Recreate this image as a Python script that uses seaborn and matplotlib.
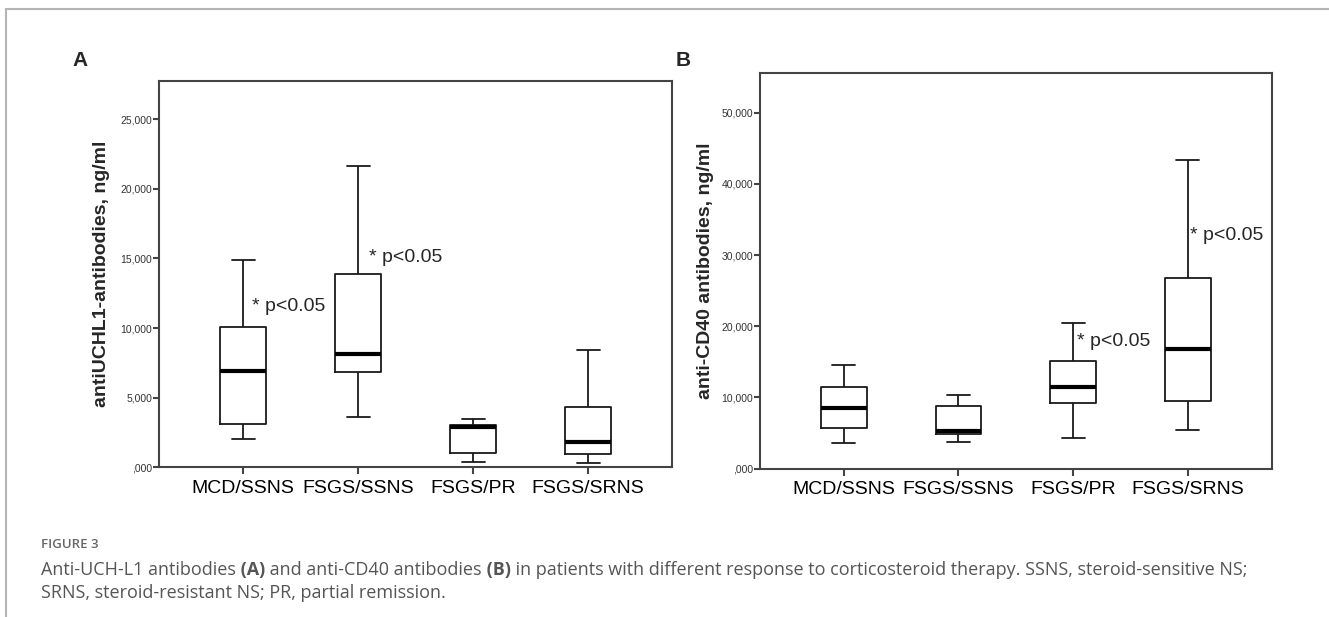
import numpy as np
import pandas as pd
import matplotlib
matplotlib.use("Agg")
import matplotlib.pyplot as plt
from matplotlib.lines import Line2D
import seaborn as sns

groups = ["MCD/SSNS", "FSGS/SSNS", "FSGS/PR", "FSGS/SRNS"]

# Panel A: anti-UCH-L1, box summaries (ng/ml)
uchl1_low = [2050, 3600, 400, 280]
uchl1_q1 = [3100, 6850, 1000, 970]
uchl1_med = [6900, 8150, 2900, 1850]
uchl1_q3 = [10050, 13850, 3050, 4300]
uchl1_high = [14900, 21650, 3450, 8400]
uchl1_ticks = [0, 5000, 10000, 15000, 20000, 25000]
uchl1_ticklabels = [",000", "5,000", "10,000", "15,000", "20,000", "25,000"]

# Panel B: anti-CD40
cd40_low = [3600, 3800, 4300, 5400]
cd40_q1 = [5750, 4900, 9250, 9500]
cd40_med = [8500, 5350, 11500, 16800]
cd40_q3 = [11500, 8850, 15150, 26750]
cd40_high = [14600, 10400, 20500, 43300]
cd40_ticks = [0, 10000, 20000, 30000, 40000, 50000]
cd40_ticklabels = [",000", "10,000", "20,000", "30,000", "40,000", "50,000"]


def summary_frame(lo, q1, med, q3, hi):
    # five points per group -> quartiles land exactly on the read values
    rows = []
    for g, vals in zip(groups, zip(lo, q1, med, q3, hi)):
        for v in vals:
            rows.append((g, v))
    return pd.DataFrame(rows, columns=["group", "value"])


df_a = summary_frame(uchl1_low, uchl1_q1, uchl1_med, uchl1_q3, uchl1_high)
df_b = summary_frame(cd40_low, cd40_q1, cd40_med, cd40_q3, cd40_high)

sns.set_style("ticks")
plt.rcParams["font.family"] = ["Liberation Sans", "DejaVu Sans"]

fig = plt.figure(figsize=(13.29, 6.17), dpi=100)
ax_a = fig.add_axes([0.1199, 0.2426, 0.3858, 0.6266])
ax_b = fig.add_axes([0.5719, 0.2404, 0.3849, 0.6408])


def draw_panel(ax, df, ticks, ticklabels, ylim):
    sns.boxplot(data=df, x="group", y="value", order=groups, ax=ax,
                width=0.4, whis=(0, 100), fill=False, color="#1a1a1a",
                linewidth=1.3, showfliers=False,
                medianprops=dict(color="black", linewidth=3))
    ax.set_xlim(-0.73, 3.73)
    ax.set_ylim(*ylim)
    ax.set_yticks(ticks)
    ax.set_yticklabels(ticklabels)
    ax.set_xlabel("")
    ax.set_ylabel("")
    for s in ax.spines.values():
        s.set_visible(True)
        s.set_color("#444444")
        s.set_linewidth(1.5)
    ax.tick_params(axis="y", length=4, width=1.5, color="#444444",
                   labelsize=7.5, labelcolor="#333333", pad=1)
    ax.tick_params(axis="x", length=5, width=1.5, color="#444444",
                   labelsize=14, labelcolor="black", pad=4)


draw_panel(ax_a, df_a, uchl1_ticks, uchl1_ticklabels, (0, 27770))
draw_panel(ax_b, df_b, cd40_ticks, cd40_ticklabels, (0, 55530))

# significance marks
for ax, x, y in [(ax_a, 0.08, 11540), (ax_a, 1.09, 15090),
                 (ax_b, 2.03, 17930), (ax_b, 3.02, 32800)]:
    ax.text(x, y, "* p<0.05", fontsize=14, ha="left", va="center")

# y-axis titles and panel letters
fig.text(102 / 1329, 1 - 274 / 617, "antiUCHL1-antibodies, ng/ml", rotation=90,
         fontsize=14, fontweight="bold", ha="center", va="center")
fig.text(705 / 1329, 1 - 271 / 617, "anti-CD40 antibodies, ng/ml", rotation=90,
         fontsize=14, fontweight="bold", ha="center", va="center")
fig.text(72 / 1329, 1 - 61 / 617, "A", fontsize=15, fontweight="bold",
         ha="left", va="center")
fig.text(676 / 1329, 1 - 61 / 617, "B", fontsize=15, fontweight="bold",
         ha="left", va="center")

# figure frame
fig.add_artist(Line2D([6 / 1329, 1], [1 - 9 / 617, 1 - 9 / 617],
                      transform=fig.transFigure, color="#b5b5b5", lw=1.5))
fig.add_artist(Line2D([6 / 1329, 6 / 1329], [0, 1 - 9 / 617],
                      transform=fig.transFigure, color="#b5b5b5", lw=1.5))

# caption
cap_font = ["Open Sans", "DejaVu Sans"]
cap_size = 13
fig.text(41 / 1329, 1 - 545 / 617, "FIGURE 3", fontsize=9.5, fontweight="semibold",
         color="#666666", family=cap_font, ha="left", va="center")


def caption_chain(y, pieces):
    prev = fig.text(41 / 1329, y, pieces[0][0], fontsize=cap_size, color="#555555",
                    family=cap_font, fontweight=pieces[0][1],
                    ha="left", va="bottom")
    for txt, weight in pieces[1:]:
        prev = ax_a.annotate(txt, xy=(1, 0), xycoords=prev,
                             fontsize=cap_size, color="#555555", family=cap_font,
                             fontweight=weight, ha="left", va="bottom",
                             annotation_clip=False)


caption_chain(1 - 579 / 617, [
    ("Anti-UCH-L1 antibodies", "normal"),
    (" (A)", "bold"),
    (" and anti-CD40 antibodies", "normal"),
    (" (B)", "bold"),
    (" in patients with different response to corticosteroid therapy. "
     "SSNS, steroid-sensitive NS;", "normal"),
])
caption_chain(1 - 602 / 617, [
    ("SRNS, steroid-resistant NS; PR, partial remission.", "normal"),
])

fig.savefig("out.png", dpi=100)
